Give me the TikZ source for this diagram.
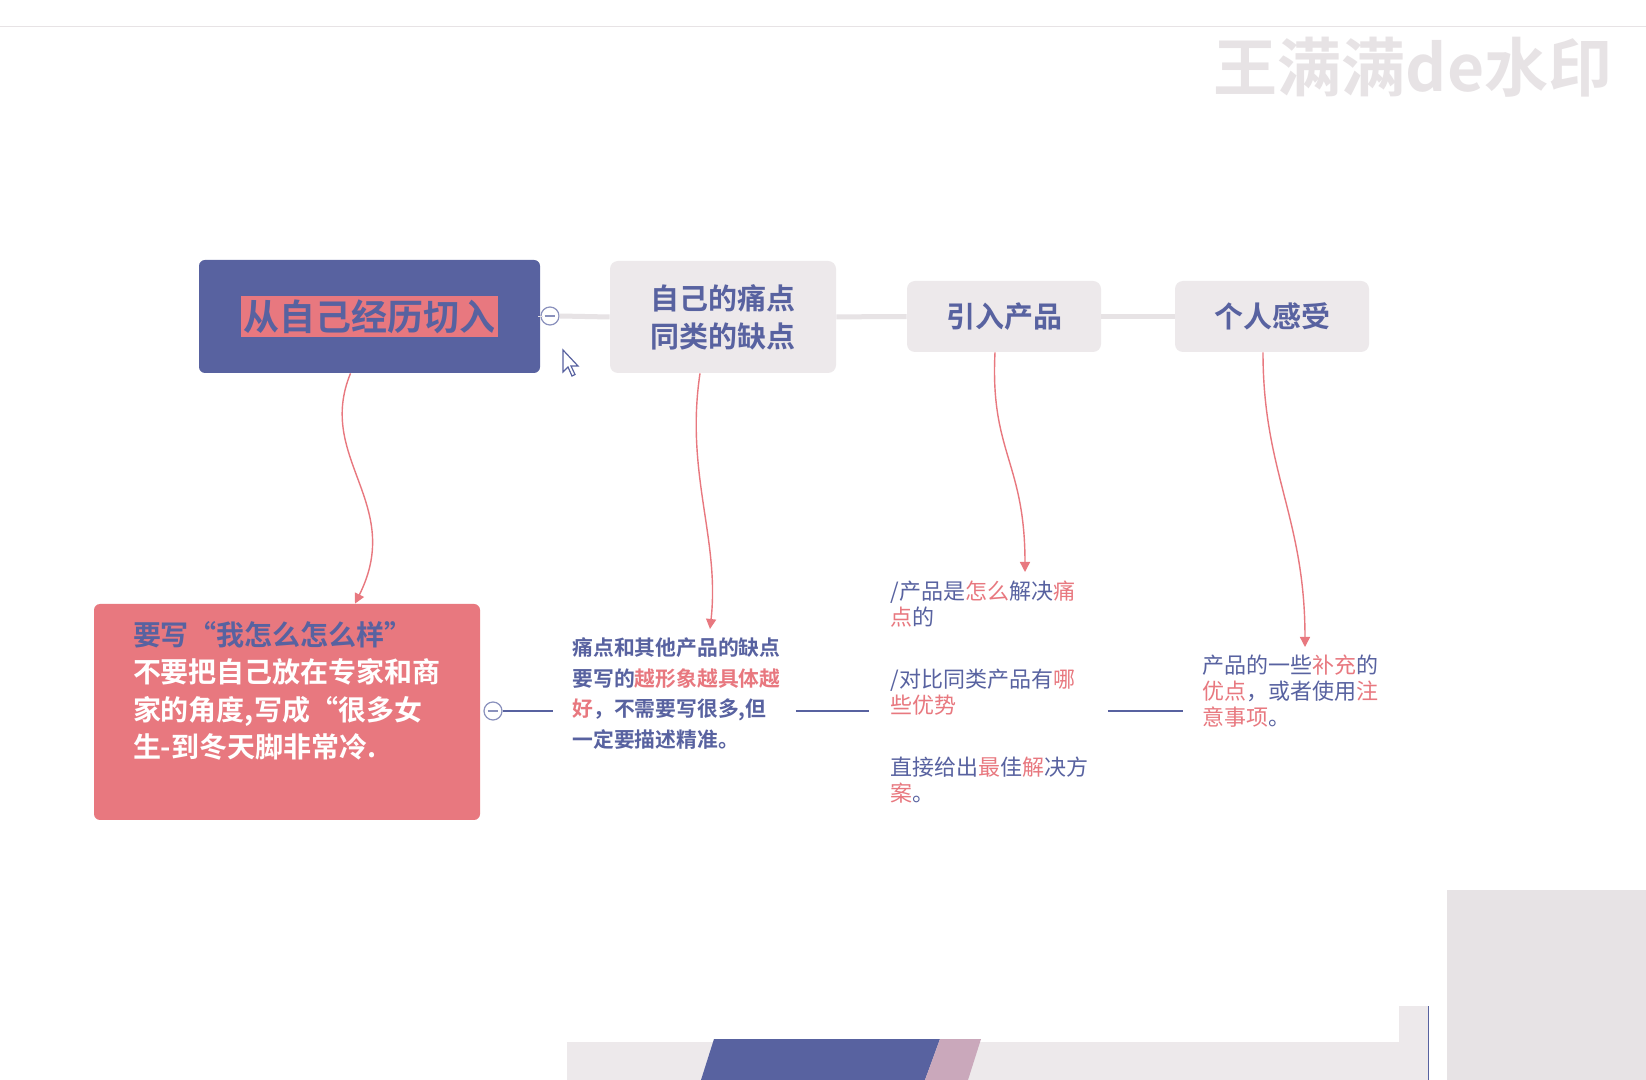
\documentclass[tikz,border=0pt]{standalone}
\usepackage{fontspec}
\usepackage{xcolor}
\usepackage{tikz}
\usetikzlibrary{arrows.meta, positioning, calc}
\newfontfamily\cjk{Noto Sans CJK SC}
\newfontfamily\cjkbold{Noto Sans CJK SC Bold}

\definecolor{mblue}{HTML}{5862A0}
\definecolor{lred}{HTML}{E8787F}
\definecolor{mgray}{HTML}{EDE9EB}
\definecolor{lgray}{HTML}{E7E3E5}
\newcommand{\hl}[1]{\textcolor{lred}{#1}}

\begin{document}
\begin{tikzpicture}[
    x=0.5pt, y=-0.5pt,
    rootbox/.style={rectangle, rounded corners=3pt, fill=mblue, minimum width=170.5pt,
                    minimum height=56.5pt, inner sep=0pt},
    topic/.style={rectangle, rounded corners=4pt, fill=mgray, text=mblue, align=center,
                  inner sep=0pt, font=\cjkbold\fontsize{14.5pt}{19pt}\selectfont},
    storybox/.style={rectangle, rounded corners=3pt, fill=lred, minimum width=193pt,
                     minimum height=108pt, inner sep=0pt},
    note/.style={anchor=north west, align=left, inner sep=4pt, text=mblue},
    link/.style={draw=lred, line width=0.7pt, -{Triangle[length=5pt, width=5pt]}},
    bar/.style={draw=lgray, line width=2.5pt},
    thinbar/.style={draw=mblue, line width=0.6pt},
    fold/.style={circle, draw=mblue!70, fill=white, line width=0.6pt, minimum size=9pt,
                 inner sep=0pt, path picture={\draw[mblue!70, line width=0.6pt]
                 ([xshift=1.8pt]path picture bounding box.west) --
                 ([xshift=-1.8pt]path picture bounding box.east);}},
]

\useasboundingbox (0,0) rectangle (1646,1080);
\fill[white] (0,0) rectangle (1646,1080);
\draw[lgray, line width=0.5pt] (0,27) -- (1646,27);

%% watermark
\node[text=lgray, font=\cjkbold\fontsize{32pt}{34pt}\selectfont] (mark) at (1413,67) {王满满de水印};

%% top row
\node[rootbox] (root) at (369.5,316.5)
    {\fboxsep=1.5pt\colorbox{lred}{\textcolor{mblue}{\cjkbold\fontsize{18pt}{20pt}\selectfont 从自己经历切入}}};
\node[topic, minimum width=113pt, minimum height=56pt] (pain) at (723,317) {自己的痛点\\同类的缺点};
\node[topic, minimum width=97pt, minimum height=35.5pt] (prod) at (1004,316.5) {引入产品};
\node[topic, minimum width=97pt, minimum height=35.5pt] (feel) at (1272,316.5) {个人感受};

\node[fold] (f1) at (550,316) {};
\draw[bar] (root.east) -- (f1.west);
\draw[bar] (f1.east) -- (pain.west);
\foreach \from/\to in {pain/prod, prod/feel}
    \draw[bar] (\from) -- (\to);

%% bottom row
\node[storybox] (story) at (287,712) {};
\node[anchor=north west, align=left, inner sep=0pt, text=white,
      font=\cjkbold\fontsize{14pt}{18.8pt}\selectfont] (storytxt) at ([shift={(39,17)}]story.north west)
    {\textcolor{mblue}{要写“我怎么怎么样”}\\不要把自己放在专家和商\\家的角度,写成“很多女\\生-到冬天脚非常冷.};

\node[note, font=\cjkbold\fontsize{10.4pt}{15.4pt}\selectfont] (painnote) at (564,629)
    {痛点和其他产品的缺点\\要写的\hl{越形象越具体越}\\\hl{好}，不需要写很多,但\\一定要描述精准。};
\node[note, font=\cjk\fontsize{11pt}{13pt}\selectfont] (prodnote) at (882,572)
    {/产品是\hl{怎么}解决\hl{痛}\\\hl{点}的\\[18pt]/对比同类产品有\hl{哪}\\\hl{些优势}\\[18pt]直接给出\hl{最}佳\hl{解}决方\\\hl{案}。};
\node[note, font=\cjk\fontsize{11pt}{13pt}\selectfont] (feelnote) at (1194,647)
    {产品的一些\hl{补充}的\\\hl{优点}，或者使用\hl{注}\\\hl{意事项}。};

\node[fold] (f2) at (493,711) {};
\draw[thinbar, shorten >=5.5pt] (f2.east) -- (painnote.west |- f2);
\draw[thinbar, shorten <=3.5pt, shorten >=6.5pt] (painnote.east |- f2) -- (prodnote.west |- f2);
\draw[thinbar, shorten <=5.5pt, shorten >=5.5pt] (prodnote.east |- f2) -- (feelnote.west |- f2);

%% curved links
\draw[link] ([shift={(-19,0)}]root.south) .. controls +(-35,85) and +(50,-100) .. ([shift={(68,0)}]story.north);
\draw[link] ([shift={(-23,0)}]pain.south) .. controls +(-15,100) and +(10,-90) .. ([shift={(146,0)}]painnote.north west);
\draw[link] ([shift={(-9,0)}]prod.south) .. controls +(-5,100) and +(0,-110) .. ([shift={(143,0)}]prodnote.north west);
\draw[link] ([shift={(-9,0)}]feel.south) .. controls +(0,120) and +(0,-130) .. ([shift={(111,0)}]feelnote.north west);

%% mouse pointer
\draw[mblue, fill=white, line width=0.6pt] (563,350) -- ++(0,22) -- ++(5,-5) -- ++(4,9)
    -- ++(3,-1.5) -- ++(-4,-8.5) -- ++(7,0) -- cycle;

%% slide strip at the bottom
\fill[mgray] (567,1042) rectangle (1401,1080);
\fill[mblue] (714,1039) -- (940,1039) -- (925,1080) -- (701,1080) -- cycle;
\fill[mblue!45!lred!60!white] (940,1039) -- (981,1039) -- (968,1080) -- (925,1080) -- cycle;
\fill[mgray] (1399,1006) rectangle (1428,1080);
\draw[mblue, line width=0.5pt] (1428,1006) -- (1428,1080);
\fill[lgray] (1447,890) rectangle (1646,1080);

\end{tikzpicture}
\end{document}
